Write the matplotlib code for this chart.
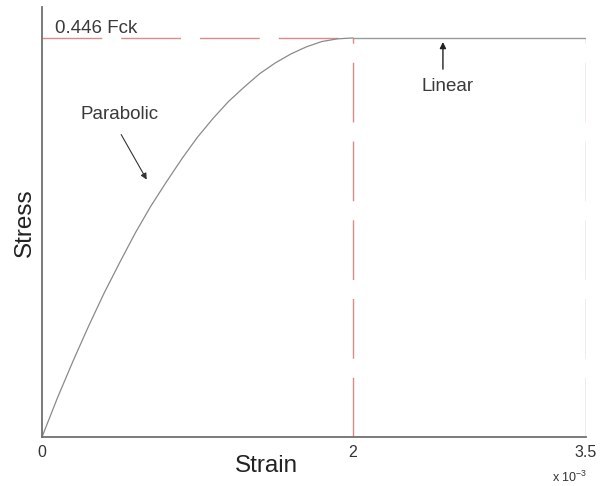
import matplotlib
matplotlib.use("Agg")
import matplotlib.pyplot as plt

plt.rcParams['font.family'] = ['Liberation Sans', 'DejaVu Sans']
plt.rcParams['mathtext.fontset'] = 'custom'
plt.rcParams['mathtext.rm'] = 'Liberation Sans'

# Data (strain in units of 1e-3, stress as fraction of fck)
strain_parabolic = [0.0, 0.1, 0.2, 0.3, 0.4, 0.5, 0.6, 0.7, 0.8, 0.9, 1.0,
                    1.1, 1.2, 1.3, 1.4, 1.5, 1.6, 1.7, 1.8, 1.9, 2.0]
stress_parabolic = [0.0, 0.044, 0.085, 0.124, 0.161, 0.195, 0.228, 0.258, 0.285, 0.311, 0.335,
                    0.356, 0.375, 0.391, 0.406, 0.418, 0.428, 0.436, 0.442, 0.445, 0.446]
strain_linear = [2.0, 3.5]
stress_linear = [0.446, 0.446]
peak_stress = 0.446
strain_marks = [2.0, 3.5]
xtick_values = [0, 2, 3.5]
xtick_labels = ["0", "2", "3.5"]

W, H = 605, 486
fig = plt.figure(figsize=(W / 100, H / 100), dpi=100)
ax = fig.add_axes([42 / W, 49 / H, 544 / W, 430 / H])

dash_color = '#d98a8c'
dash = (0, (43, 13.7))

# dashed reference lines
ax.plot([0, strain_marks[0]], [peak_stress, peak_stress], color=dash_color, lw=1.0, linestyle=dash)
for xm in strain_marks:
    ax.plot([xm, xm], [0, peak_stress], color=dash_color, lw=1.0, linestyle=dash)

# curve
ax.plot(strain_parabolic, stress_parabolic, color='#8a8a8a', lw=0.9)
ax.plot(strain_linear, stress_linear, color='#9a9a9a', lw=1.0)

ax.set_xlim(0, 3.5)
ax.set_ylim(0, 0.4806)

for s in ['top', 'right']:
    ax.spines[s].set_visible(False)
for s in ['left', 'bottom']:
    ax.spines[s].set_color('#707070')
    ax.spines[s].set_linewidth(1.3)

ax.set_xticks(xtick_values)
ax.set_xticklabels(xtick_labels)
ax.set_yticks([])
ax.tick_params(axis='x', length=0, pad=6, labelsize=11.5, labelcolor='#333333')

txtc = '#3a3a3a'
ax.text(0.024, 0.951, "0.446 Fck", transform=ax.transAxes, ha='left', va='center',
        fontsize=13.5, color=txtc)

ax.annotate("", xy=(0.195, 0.593), xytext=(0.143, 0.709), xycoords='axes fraction',
            textcoords='axes fraction',
            arrowprops=dict(arrowstyle='-|>', color='#333333', lw=0.8, mutation_scale=9))
ax.text(0.143, 0.749, "Parabolic", transform=ax.transAxes, ha='center', va='center',
        fontsize=13.5, color=txtc)

ax.annotate("", xy=(0.737, 0.925), xytext=(0.737, 0.849), xycoords='axes fraction',
            textcoords='axes fraction',
            arrowprops=dict(arrowstyle='-|>', color='#222222', lw=1.0, mutation_scale=9))
ax.text(0.746, 0.816, "Linear", transform=ax.transAxes, ha='center', va='center',
        fontsize=13.5, color=txtc)

fig.text(266 / W, 1 - 466 / H, "Strain", ha='center', va='center', fontsize=17.5, color='#222222')
fig.text(25 / W, 1 - 223 / H, "Stress", ha='center', va='center', rotation=90,
         fontsize=17.5, color='#222222')
fig.text(587 / W, 1 - 477 / H, r"x 10$^{-3}$", ha='right', va='center', fontsize=9,
         color='#333333')

fig.savefig("out.png", dpi=100, facecolor='white')
